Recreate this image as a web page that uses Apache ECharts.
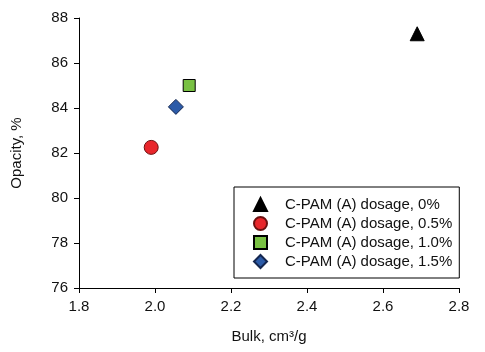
<!DOCTYPE html>
<html>
<head>
<meta charset="utf-8">
<script src="https://cdn.jsdelivr.net/npm/echarts@6/dist/echarts.min.js"></script>
<style>
  html, body { margin: 0; padding: 0; background: #fff; }
  #chart { width: 485px; height: 352px; }
</style>
</head>
<body>
<div id="chart"></div>
<script>
// series: [bulk, opacity]
var seriesNames = ['C-PAM (A) dosage, 0%', 'C-PAM (A) dosage, 0.5%', 'C-PAM (A) dosage, 1.0%', 'C-PAM (A) dosage, 1.5%'];
var dose0 = [[2.69, 87.3]];
var dose05 = [[1.99, 82.25]];
var dose10 = [[2.09, 85.0]];
var dose15 = [[2.055, 84.05]];
var xTicks = [1.8, 2.0, 2.2, 2.4, 2.6, 2.8];
var yTicks = [76, 78, 80, 82, 84, 86, 88];

var font = 'Liberation Sans, Arial, sans-serif';
var chart = echarts.init(document.getElementById('chart'));

function mk(name, data, symbol, size, color, border) {
    return {
        name: name,
        type: 'scatter',
        data: data,
        symbol: symbol,
        symbolSize: size,
        itemStyle: { color: color, borderColor: border, borderWidth: 1, opacity: 1 }
    };
}

var options = {
    animation: false,
    grid: { left: 79, right: 26, top: 18, bottom: 64 },
    xAxis: {
        type: 'value',
        min: xTicks[0],
        max: xTicks[xTicks.length - 1],
        interval: 0.2,
        name: 'Bulk, cm³/g',
        nameLocation: 'middle',
        nameGap: 41,
        nameTextStyle: { fontFamily: font, fontSize: 15, color: '#111' },
        axisLine: { onZero: false, lineStyle: { color: '#000', width: 1 } },
        axisTick: { show: true, inside: false, length: 5, lineStyle: { color: '#000' } },
        axisLabel: {
            margin: 11, fontFamily: font, fontSize: 15, color: '#111',
            formatter: function (v) { return v.toFixed(1); }
        },
        splitLine: { show: false }
    },
    yAxis: {
        type: 'value',
        min: yTicks[0],
        max: yTicks[yTicks.length - 1],
        interval: 2,
        name: 'Opacity, %',
        nameLocation: 'middle',
        nameGap: 55,
        nameTextStyle: { fontFamily: font, fontSize: 15, color: '#111' },
        axisLine: { show: true, onZero: false, lineStyle: { color: '#000', width: 1 } },
        axisTick: { show: true, inside: false, length: 5, lineStyle: { color: '#000' } },
        axisLabel: { margin: 11, fontFamily: font, fontSize: 15, color: '#111' },
        splitLine: { show: false }
    },
    legend: {
        orient: 'vertical',
        left: 234,
        top: 187,
        width: 224,
        data: seriesNames,
        itemWidth: 13,
        itemHeight: 13,
        itemGap: 4,
        padding: [10, 7, 9, 19],
        borderColor: '#000',
        borderWidth: 1,
        backgroundColor: '#fff',
        textStyle: { fontFamily: font, fontSize: 15, color: '#111', padding: [0, 0, 0, 13] }
    },
    series: [
        mk(seriesNames[0], dose0, 'triangle', 14, '#000', '#000'),
        mk(seriesNames[1], dose05, 'circle', 14, '#e8262b', '#6b1010'),
        mk(seriesNames[2], dose10, 'rect', 12, '#79c143', '#000'),
        mk(seriesNames[3], dose15, 'diamond', 15, '#2c5ba8', '#14264f')
    ]
};
chart.setOption(options);
</script>
</body>
</html>
